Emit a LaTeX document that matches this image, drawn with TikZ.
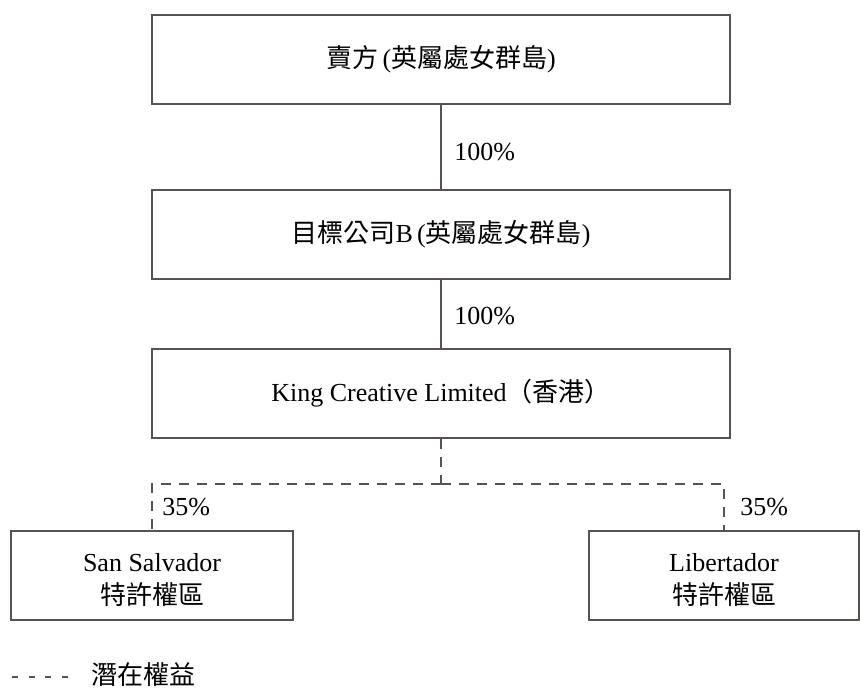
\documentclass[tikz,border=0pt]{standalone}
\usepackage{fontspec}
\setmainfont{Liberation Serif}
\newfontfamily\cjk{Noto Sans CJK TC}
\definecolor{linec}{RGB}{88,83,80}
\begin{document}
\begin{tikzpicture}[x=0.75pt,y=-0.75pt,
  box/.style={draw=linec, line width=0.8pt, minimum height=66.75pt, inner sep=0pt, align=center,
    font=\fontsize{19.5pt}{25pt}\selectfont},
  txt/.style={inner sep=0pt, align=center, font=\fontsize{19.5pt}{25pt}\selectfont},
  conn/.style={draw=linec, line width=0.8pt},
  dconn/.style={draw=linec, line width=0.8pt, dash pattern=on 7.5pt off 6pt},
  lbl/.style={font=\fontsize{19.5pt}{23pt}\selectfont, inner sep=0pt, anchor=west}]
\useasboundingbox (0,0) rectangle (860,689);
\node[box, minimum width=433.5pt] (n1) at (441,59.5) {\cjk 賣方\rm\,(\cjk 英屬處女群島\rm)};
\node[box, minimum width=433.5pt] (n2) at (441,234.5) {\cjk 目標公司\rm B\,(\cjk 英屬處女群島\rm)};
\node[box, minimum width=433.5pt] (n3) at (441,393.5) {King Creative Limited\cjk （香港）};
\node[box, minimum width=211.5pt] (n4) at (152,575.5) {};
\node[box, minimum width=202.5pt] (n5) at (724,575.5) {};
\node[txt] (t4) at (152,580) {San Salvador\\\cjk 特許權區};
\node[txt] (t5) at (724,580) {Libertador\\\cjk 特許權區};
\draw[conn] (n1.south) -- (n2.north);
\draw[conn] (n2.south) -- (n3.north);
\node[lbl] (p1) at (454,152) {100\%};
\node[lbl] (p2) at (454,316) {100\%};
\coordinate (j) at (441,484);
\draw[dconn] (n3.south) -- (j);
\draw[dconn] (j) -| (n4.north);
\draw[dconn] (j) -| (n5.north);
\node[lbl] (p3) at (162,507) {35\%};
\node[lbl] (p4) at (740,507) {35\%};
\coordinate (l1) at (12,677);
\coordinate (l2) at (68,677);
\draw[linec, line width=0.8pt, dash pattern=on 4.5pt off 7.9pt] (l1) -- (l2);
\node[lbl] (leg) at (91,675) {\cjk 潛在權益};
\end{tikzpicture}
\end{document}
